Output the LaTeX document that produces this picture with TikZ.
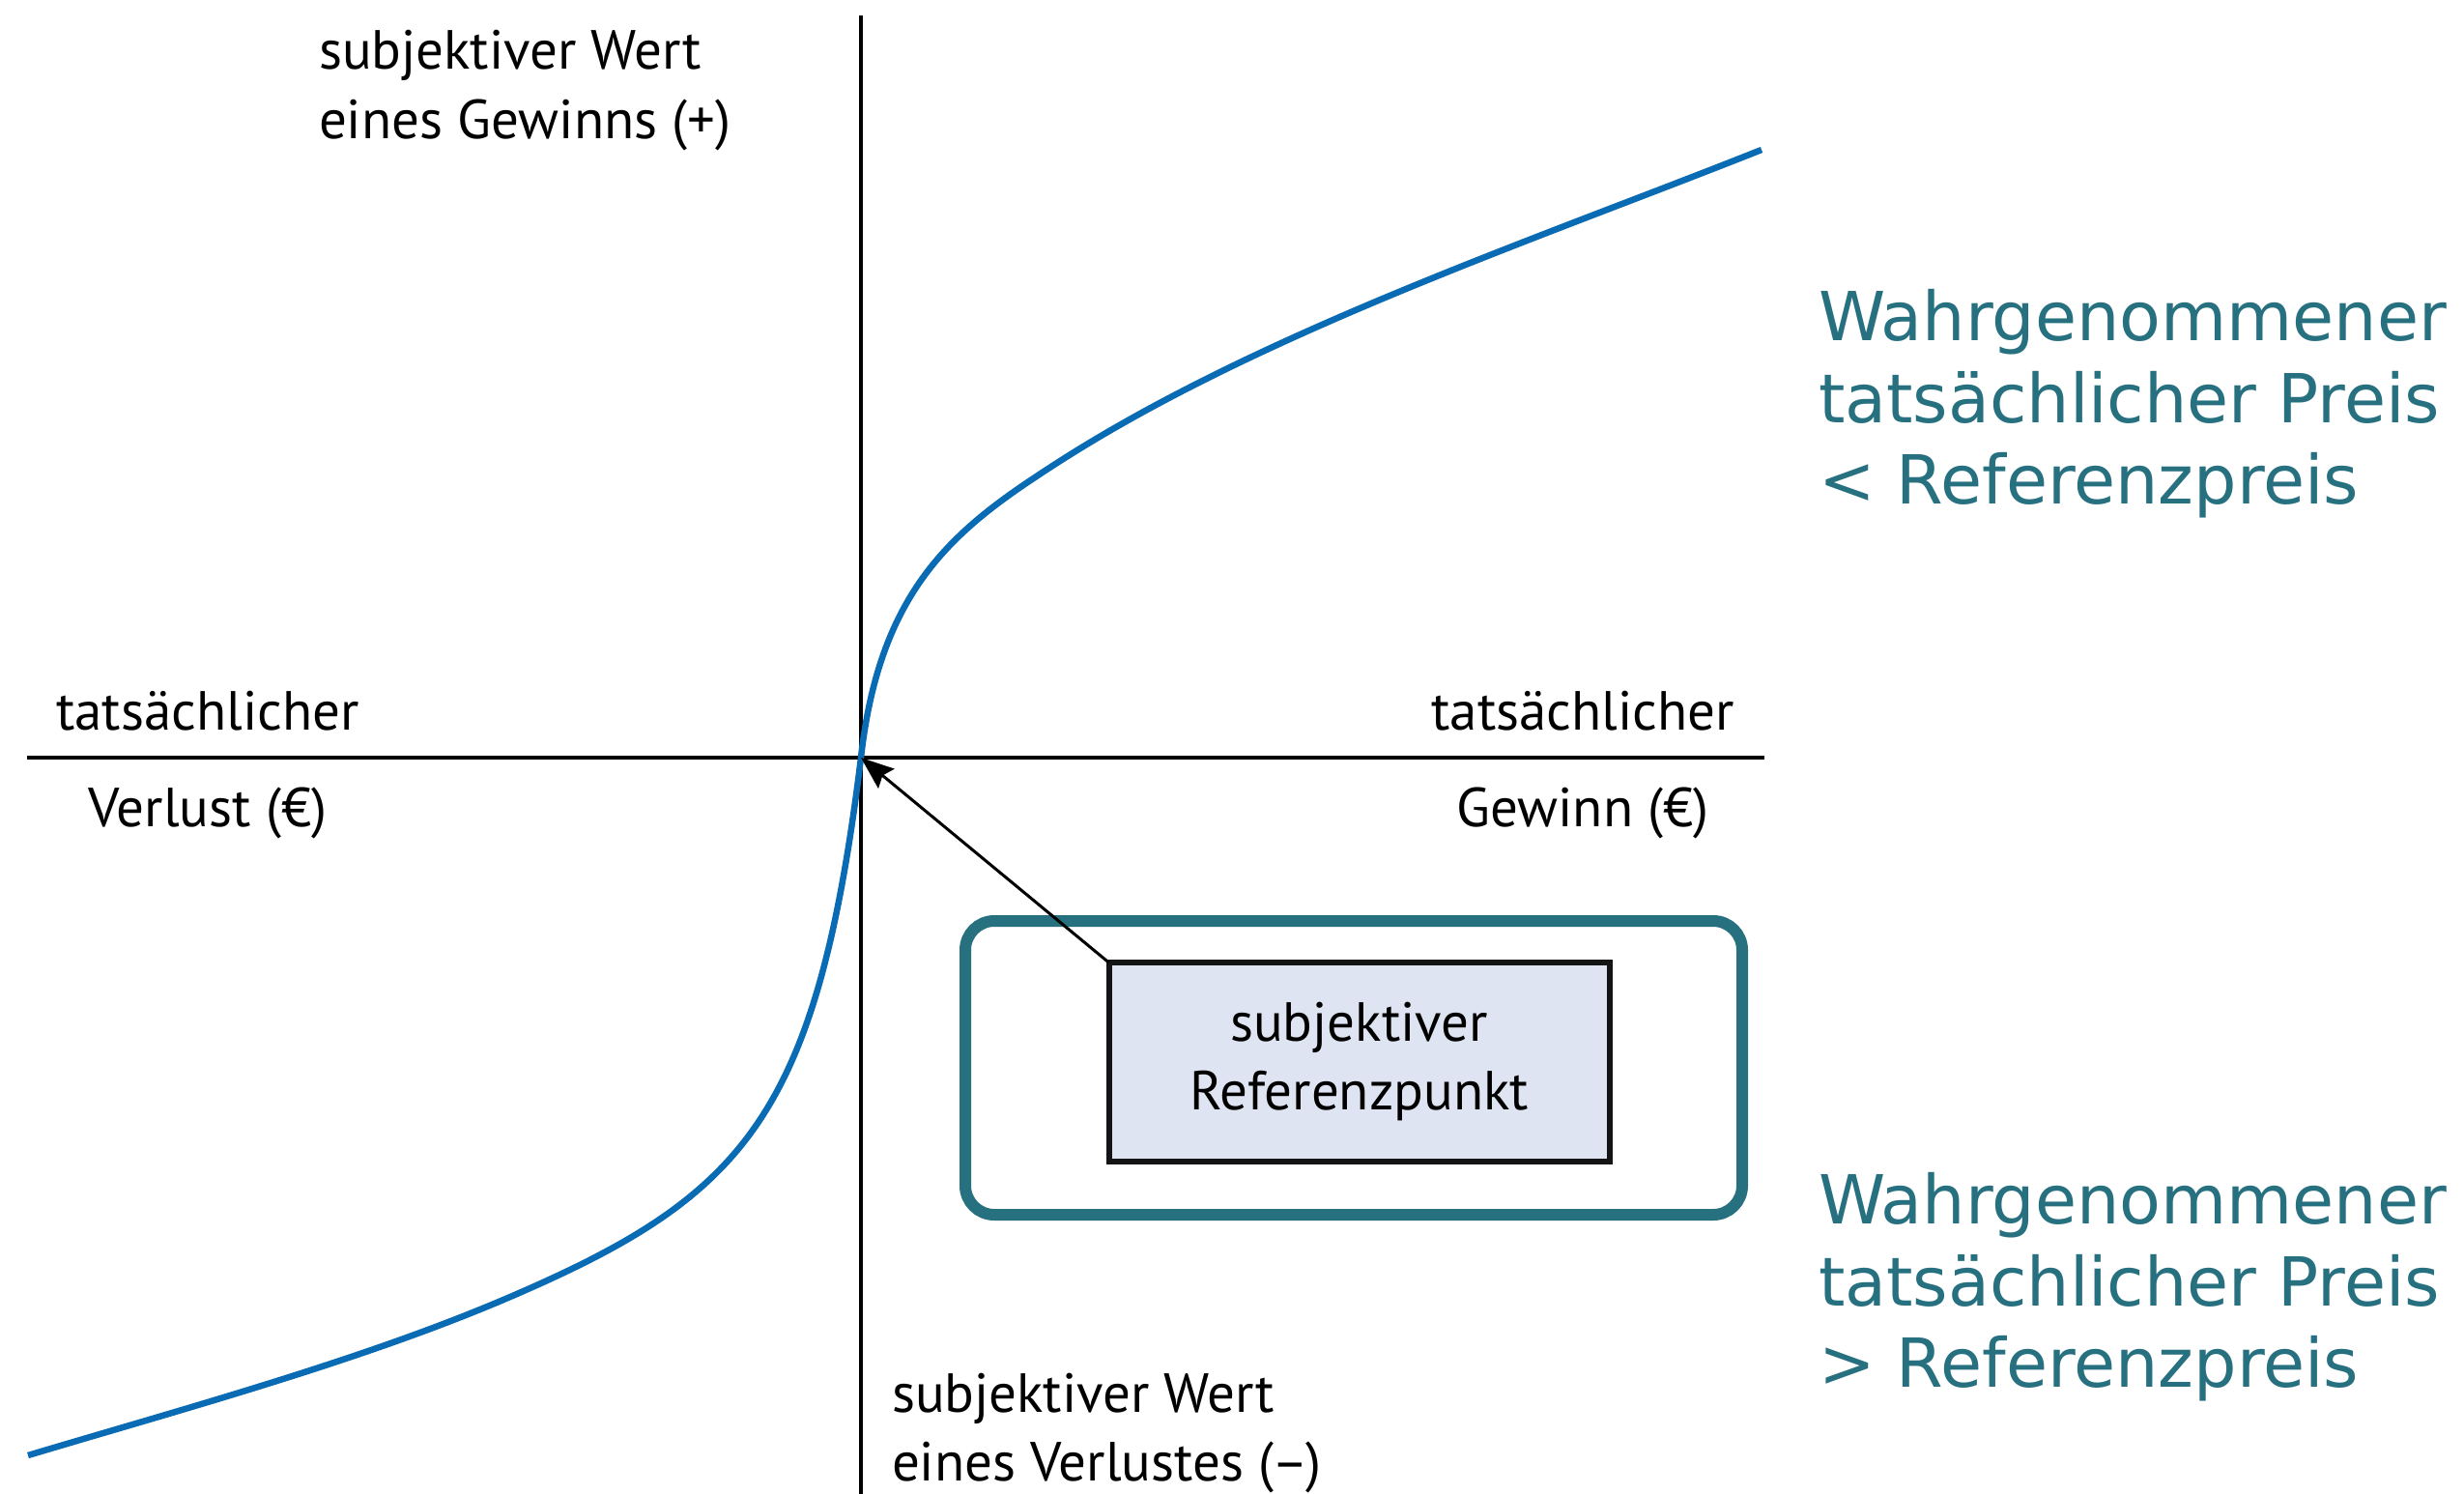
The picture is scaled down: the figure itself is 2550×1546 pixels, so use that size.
\documentclass[tikz,border=0pt]{standalone}
\usepackage{fontspec}
\setmainfont{PT Sans}
\newfontfamily\tealfont{DejaVu Sans}
\usetikzlibrary{arrows.meta}
\definecolor{curveblue}{RGB}{10,107,181}
\definecolor{tealc}{RGB}{38,112,128}
\definecolor{boxfill}{RGB}{222,228,241}
\tikzset{
  axisline/.style={line width=3.5pt, black},
  curveline/.style={line width=6.5pt, curveblue},
  lbl/.style={inner sep=0pt, outer sep=0pt, font=\fontsize{57}{71}\selectfont},
  teallbl/.style={inner sep=0pt, outer sep=0pt, anchor=base west, text=tealc, font=\tealfont\fontsize{70}{85}\selectfont},
  refbox/.style={draw=black!92, line width=6pt, fill=boxfill, minimum width=518pt, minimum height=206pt, outer sep=0pt, inner sep=0pt, align=center, font=\fontsize{57}{71}\selectfont},
  framebox/.style={draw=tealc, line width=12pt, rounded corners=30pt, minimum width=804pt, minimum height=304pt, outer sep=0pt},
  pointer/.style={line width=3pt, -{Stealth[length=34pt, width=26pt, inset=5pt]}}
}
\begin{document}
\begin{tikzpicture}[x=1pt, y=-1pt]
\useasboundingbox[fill=white] (0,0) rectangle (2550,1546);

% axes
\coordinate (O) at (891,784);
\coordinate (xl) at (28,784);
\coordinate (xr) at (1826,784);
\coordinate (yt) at (891,16);
\coordinate (yb) at (891,1546);
\draw[axisline] (xl) -- (xr);
\draw[axisline] (yt) -- (yb);

% value curve
\coordinate (cs) at (29,1506);
\coordinate (ce) at (1823,155);
\draw[curveline] (cs)
  .. controls (188,1458.4) and (375.6,1407.6) .. (528,1342)
  .. controls (771.3,1237.3) and (845.3,1155.3) .. (O)
  .. controls (911,604) and (993,544) .. (1094,479)
  .. controls (1304,344) and (1590.5,247.5) .. (ce);

% reference frame and box
\node[framebox] (frame) at (1401,1105) {};
\node[refbox] (ref) at (1406.5,1099) {subjektiver\\Referenzpunkt};
\draw[pointer] (ref.north west) -- (O);

% axis labels
\node[lbl, anchor=base west] (ytop1) at (330,72) {subjektiver Wert};
\node[lbl, anchor=base west] (ytop2) at (330,144) {eines Gewinns (+)};
\node[lbl, anchor=base west] (ybot1) at (923,1461) {subjektiver Wert};
\node[lbl, anchor=base west] (ybot2) at (923,1532) {eines Verlustes (–)};
\node[lbl, anchor=base] (xl1) at (215,755) {tatsächlicher};
\node[lbl, anchor=base] (xl2) at (215,855) {Verlust (€)};
\node[lbl, anchor=base] (xr1) at (1638,755) {tatsächlicher};
\node[lbl, anchor=base] (xr2) at (1638,855) {Gewinn (€)};

% teal notes
\node[teallbl] (t1) at (1882,352) {Wahrgenommener};
\node[teallbl] (t2) at (1882,437) {tatsächlicher Preis};
\node[teallbl] (t3) at (1882,521) {< Referenzpreis};
\node[teallbl] (b1) at (1882,1266) {Wahrgenommener};
\node[teallbl] (b2) at (1882,1351) {tatsächlicher Preis};
\node[teallbl] (b3) at (1882,1435) {> Referenzpreis};
\end{tikzpicture}
\end{document}
